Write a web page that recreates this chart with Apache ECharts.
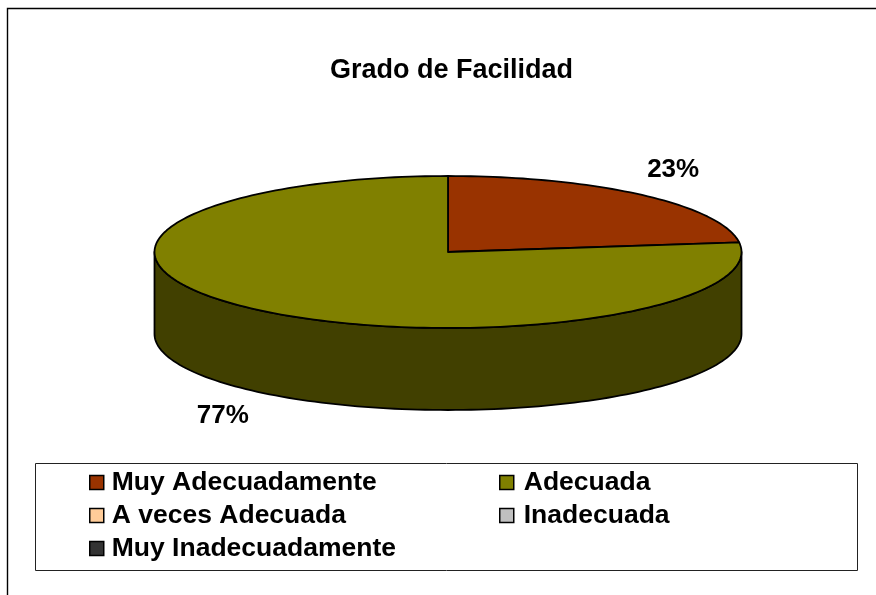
<!DOCTYPE html>
<html><head><meta charset="utf-8">
<style>html,body{margin:0;padding:0;background:#fff}#c{width:876px;height:595px}</style>
<script src="https://cdn.jsdelivr.net/npm/echarts@6/dist/echarts.min.js"></script>
</head><body><div id="c"></div>
<script>
const categories = ['Muy Adecuadamente','Adecuada','A veces Adecuada','Inadecuada','Muy Inadecuadamente'];
const values = [23,77,0,0,0];
const colors = ['#993300','#808000','#FFCC99','#C0C0C0','#333333'];
const wallColors = ['#4C1900','#414000','#806650','#606060','#1A1A1A'];
const titleText = 'Grado de Facilidad';
const leftLegend = [categories[0],categories[2],categories[4]];
const rightLegend = [categories[1],categories[3]];

const FONT = '"Liberation Sans", Arial, sans-serif';
const cx = 448, cy = 252, rx = 293.5, ry = 76, depth = 82;
const total = values.reduce((a,b)=>a+b,0);
const ell = (deg, dy=0) => {const t=deg*Math.PI/180; return [cx+rx*Math.cos(t), cy-ry*Math.sin(t)+dy];};
const arcPts = (a0,a1,dy=0) => {const n=Math.max(2,Math.ceil(Math.abs(a1-a0)/1.5)),p=[];
  for(let i=0;i<=n;i++)p.push(ell(a0+(a1-a0)*i/n,dy));return p;};

function makeRender(idx){
  return function(params, api){
    const v = api.value(0);
    if(!v) return null;
    const before = values.slice(0,idx).reduce((a,b)=>a+b,0);
    const a0 = 90-before/total*360, a1 = 90-(before+v)/total*360;
    const children = [];
    const line = {stroke:'#000',lineWidth:1.8,lineJoin:'round'};
    [[0,-180],[-360,-540]].forEach(([hi,lo])=>{
      const s=Math.min(a0,hi), e=Math.max(a1,lo);
      if(s>e){
        const top=arcPts(s,e), bottom=arcPts(e,s,depth);
        children.push({type:'polygon',shape:{points:top.concat(bottom)},style:{fill:wallColors[idx],...line}});
      }
    });
    children.push({type:'polygon',shape:{points:[[cx,cy]].concat(arcPts(a0,a1))},style:{fill:colors[idx],...line}});
    const mid=(a0+a1)/2, t=mid*Math.PI/180, s=Math.sin(t);
    children.push({type:'text',style:{
      text:Math.round(v/total*100)+'%',
      x:cx+1.16*rx*Math.cos(t), y:cy-1.44*ry*s+(s<0?depth:0),
      align:'center',verticalAlign:'middle',fill:'#000',
      font:'bold 26px '+FONT}});
    return {type:'group',children};
  };
}

const series = categories.map((name,i)=>({
  name, type:'custom', coordinateSystem:'none', silent:true,
  itemStyle:{color:colors[i]},
  data:[[values[i]]], renderItem:makeRender(i), animation:false
}));

const legendBase = {orient:'vertical',icon:'rect',itemWidth:14,itemHeight:14,selectedMode:false,
  itemGap:6,padding:0,
  itemStyle:{borderColor:'#000',borderWidth:1.5}};
const legendText = {fontFamily:FONT,fontWeight:'bold',fontSize:26.5,color:'#000'};

const chart = echarts.init(document.getElementById('c'),null,{renderer:'canvas'});
chart.setOption({
  animation:false, backgroundColor:'#fff',
  title:{text:titleText,left:330,top:57,padding:0,
    textStyle:{fontFamily:FONT,fontWeight:'bold',fontSize:27,color:'#000'}},
  tooltip:{show:false},
  legend:[
    {...legendBase,left:89,top:469,data:leftLegend,textStyle:{...legendText,padding:[0,0,0,3]}},
    {...legendBase,left:499,top:469,data:rightLegend,textStyle:{...legendText,padding:[0,0,0,5]}}
  ],
  graphic:[
    {type:'rect',silent:true,z:-1,shape:{x:7.5,y:8.5,width:900,height:620},style:{fill:'#fff',stroke:'#000',lineWidth:1.4}},
    {type:'rect',silent:true,z:-1,shape:{x:35.5,y:463.5,width:822,height:107},style:{fill:'#fff',stroke:'#222',lineWidth:1}}
  ],
  series
});
</script></body></html>
